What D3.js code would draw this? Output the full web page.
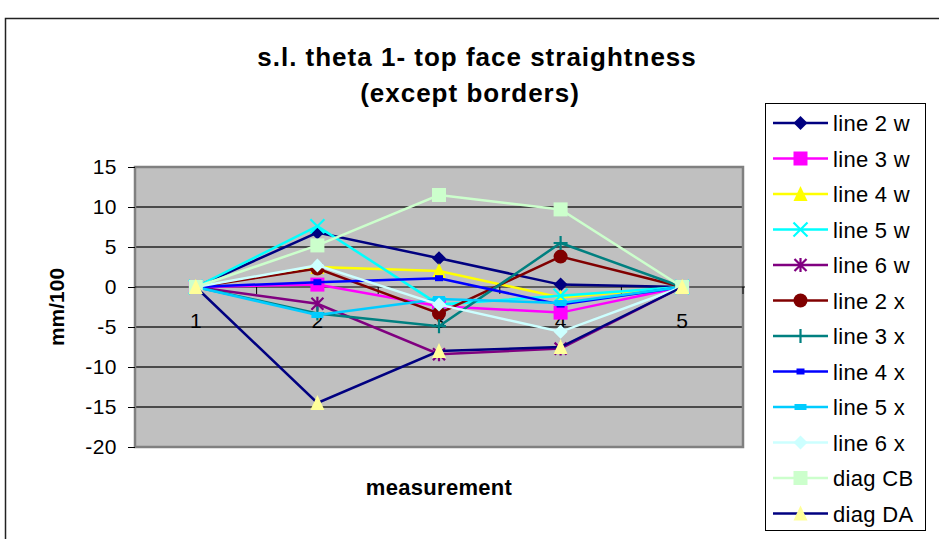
<!DOCTYPE html>
<html>
<head>
<meta charset="utf-8">
<script src="https://cdn.jsdelivr.net/npm/d3@7"></script>
<style>
  body { margin: 0; background: #fff; }
  svg { display: block; font-family: "Liberation Sans", Arial, sans-serif; }
</style>
</head>
<body>
<svg id="chart" width="939" height="539"></svg>
<script>
// chart data
const categories = [1, 2, 3, 4, 5];
const seriesNames = ["line 2 w", "line 3 w", "line 4 w", "line 5 w", "line 6 w",
  "line 2 x", "line 3 x", "line 4 x", "line 5 x", "line 6 x", "diag CB", "diag DA"];
const line2w = [0, 6.8, 3.6, 0.3, 0];
const line3w = [0, 0.3, -2.4, -3.2, 0];
const line4w = [0, 2.5, 2.0, -1.3, 0];
const line5w = [0, 7.6, -2.2, -1.1, 0];
const line6w = [0, -2.1, -8.4, -7.7, 0];
const line2x = [0, 2.3, -3.3, 3.8, 0];
const line3x = [0, -3.3, -4.9, 5.5, 0];
const line4x = [0, 0.6, 1.1, -2.2, 0];
const line5x = [0, -3.5, -1.5, -2.0, 0];
const line6x = [0, 2.7, -2.2, -5.6, 0];
const diagCB = [0, 5.2, 11.5, 9.7, 0];
const diagDA = [0, -14.5, -8.0, -7.5, 0];
const yTicks = [-20, -15, -10, -5, 0, 5, 10, 15];

const seriesValues = [line2w, line3w, line4w, line5w, line6w, line2x, line3x, line4x, line5x, line6x, diagCB, diagDA];
const styles = [
  { line: "#000080", fill: "#000080", marker: "diamond" },
  { line: "#FF00FF", fill: "#FF00FF", marker: "square" },
  { line: "#FFFF00", fill: "#FFFF00", marker: "triangle" },
  { line: "#00FFFF", fill: "#00FFFF", marker: "x" },
  { line: "#800080", fill: "#800080", marker: "star" },
  { line: "#800000", fill: "#800000", marker: "circle" },
  { line: "#008080", fill: "#008080", marker: "plus" },
  { line: "#0000FF", fill: "#0000FF", marker: "dash" },
  { line: "#00CCFF", fill: "#00CCFF", marker: "wdash" },
  { line: "#CCFFFF", fill: "#CCFFFF", marker: "diamond" },
  { line: "#CCFFCC", fill: "#CCFFCC", marker: "square" },
  { line: "#000080", fill: "#FFFF99", marker: "triangle" }
];

const svg = d3.select("#chart");
const plot = { left: 135, right: 743, top: 167, bottom: 447 };

const x = d3.scalePoint().domain(categories).range([plot.left, plot.right]).padding(0.5);
const y = d3.scaleLinear().domain([-20, 15]).range([plot.bottom, plot.top]);

// outer chart frame
svg.append("rect").attr("x", 5.5).attr("y", 18.5).attr("width", 940).attr("height", 540)
  .attr("fill", "#fff").attr("stroke", "#222").attr("stroke-width", 1.5);

// title
svg.append("text").attr("x", 477).attr("y", 66).attr("text-anchor", "middle")
  .attr("font-size", 26).attr("font-weight", "bold").attr("letter-spacing", 1)
  .text("s.l. theta 1- top face straightness");
svg.append("text").attr("x", 470).attr("y", 102).attr("text-anchor", "middle")
  .attr("font-size", 26).attr("font-weight", "bold").attr("letter-spacing", 1)
  .text("(except borders)");

// plot area
svg.append("rect").attr("x", plot.left).attr("y", plot.top)
  .attr("width", plot.right - plot.left).attr("height", plot.bottom - plot.top)
  .attr("fill", "#C0C0C0");

// gridlines
svg.append("g").selectAll("line").data(yTicks.filter(d => d !== 0 && d !== -20 && d !== 15)).join("line")
  .attr("x1", plot.left).attr("x2", plot.right)
  .attr("y1", d => y(d)).attr("y2", d => y(d))
  .attr("stroke", "#4a4a4a").attr("stroke-width", 2);

svg.append("rect").attr("x", plot.left).attr("y", plot.top)
  .attr("width", plot.right - plot.left).attr("height", plot.bottom - plot.top)
  .attr("fill", "none").attr("stroke", "#808080").attr("stroke-width", 2.5);

// y axis
const yAxis = d3.axisLeft(y).tickValues(yTicks).tickSize(7).tickPadding(11).tickFormat(d => String(d));
const yg = svg.append("g").attr("transform", `translate(${plot.left},0)`).call(yAxis);
yg.select(".domain").remove();
yg.selectAll("line").attr("stroke", "#000");
yg.selectAll("text").attr("font-size", 21).attr("fill", "#000").attr("letter-spacing", 0.5)
  .attr("font-family", "Liberation Sans, Arial, sans-serif");

// x axis at zero
const bw = x.step();
svg.append("line").attr("x1", plot.left).attr("x2", plot.right + 2)
  .attr("y1", y(0)).attr("y2", y(0)).attr("stroke", "#000").attr("stroke-width", 1.2);
svg.append("g").selectAll("line").data(categories).join("line")
  .attr("x1", d => x(d) + bw / 2).attr("x2", d => x(d) + bw / 2)
  .attr("y1", y(0)).attr("y2", y(0) + 7).attr("stroke", "#000");
svg.append("g").selectAll("text").data(categories).join("text")
  .attr("x", d => x(d)).attr("y", 328).attr("text-anchor", "middle")
  .attr("font-size", 21).text(d => d);

// axis titles
svg.append("text").attr("x", 439).attr("y", 495).attr("text-anchor", "middle")
  .attr("font-size", 22).attr("font-weight", "bold").attr("letter-spacing", 0.3).text("measurement");
svg.append("text").attr("transform", `translate(64,${(plot.top + plot.bottom) / 2}) rotate(-90)`)
  .attr("text-anchor", "middle").attr("font-size", 21).attr("font-weight", "bold").text("mm/100");

function drawMarker(g, type, cx, cy, st) {
  const s = 7;
  if (type === "diamond") {
    g.append("path").attr("d", `M${cx},${cy - s}L${cx + s},${cy}L${cx},${cy + s}L${cx - s},${cy}Z`)
      .attr("fill", st.fill);
  } else if (type === "square") {
    g.append("rect").attr("x", cx - s).attr("y", cy - s).attr("width", 2 * s).attr("height", 2 * s).attr("fill", st.fill);
  } else if (type === "triangle") {
    g.append("path").attr("d", `M${cx},${cy - s - 1}L${cx + s},${cy + s}L${cx - s},${cy + s}Z`)
      .attr("fill", st.fill);
  } else if (type === "x") {
    g.append("path").attr("d", `M${cx - s},${cy - s}L${cx + s},${cy + s}M${cx - s},${cy + s}L${cx + s},${cy - s}`)
      .attr("stroke", st.fill).attr("stroke-width", 2.2);
  } else if (type === "star") {
    g.append("path").attr("d", `M${cx - s + 1},${cy - s + 1}L${cx + s - 1},${cy + s - 1}M${cx - s + 1},${cy + s - 1}L${cx + s - 1},${cy - s + 1}M${cx},${cy - s}L${cx},${cy + s}`)
      .attr("stroke", st.fill).attr("stroke-width", 2.2);
  } else if (type === "circle") {
    g.append("circle").attr("cx", cx).attr("cy", cy).attr("r", s).attr("fill", st.fill);
  } else if (type === "plus") {
    g.append("path").attr("d", `M${cx - s},${cy}L${cx + s},${cy}M${cx},${cy - s}L${cx},${cy + s}`)
      .attr("stroke", st.fill).attr("stroke-width", 2.2);
  } else if (type === "dash") {
    g.append("rect").attr("x", cx - 4).attr("y", cy - 3).attr("width", 8).attr("height", 6).attr("fill", st.fill);
  } else if (type === "wdash") {
    g.append("rect").attr("x", cx - 6).attr("y", cy - 3).attr("width", 12).attr("height", 6).attr("fill", st.fill);
  }
}

// series
const lineGen = d3.line().x((d, i) => x(categories[i])).y(d => y(d));
seriesValues.forEach((vals, k) => {
  const st = styles[k];
  const g = svg.append("g");
  g.append("path").attr("d", lineGen(vals)).attr("fill", "none")
    .attr("stroke", st.line).attr("stroke-width", 2.5);
  vals.forEach((v, i) => drawMarker(g, st.marker, x(categories[i]), y(v), st));
});

// legend
const lg = svg.append("g");
lg.append("rect").attr("x", 765.5).attr("y", 103.5).attr("width", 160).attr("height", 427)
  .attr("fill", "#fff").attr("stroke", "#000").attr("stroke-width", 1);
seriesNames.forEach((name, k) => {
  const st = styles[k];
  const cy = 123 + k * 35.5;
  const g = lg.append("g");
  g.append("line").attr("x1", 773).attr("x2", 828).attr("y1", cy).attr("y2", cy)
    .attr("stroke", st.line).attr("stroke-width", 2.5);
  drawMarker(g, st.marker, 800.5, cy, st);
  g.append("text").attr("x", 833).attr("y", cy + 8).attr("font-size", 22).attr("letter-spacing", 0.3).text(name);
});
</script>
</body>
</html>
